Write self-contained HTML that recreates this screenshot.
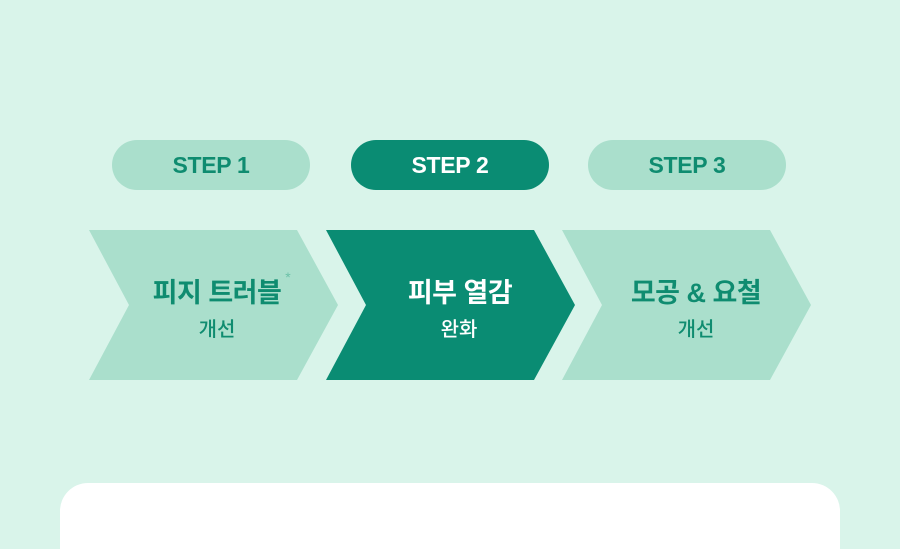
<!DOCTYPE html>
<html style="margin:0;width:900px;height:549px;overflow:hidden"><head><meta charset="utf-8"><style>
body{margin:0;width:900px;height:549px;background:#d9f4ea;position:relative;overflow:hidden;font-family:"Liberation Sans","Noto Sans CJK KR",sans-serif}
.pill{position:absolute;top:140px;width:198px;height:50px;border-radius:25px;background:#aadfcc;color:#0f8c70;font-weight:bold;font-size:23px;line-height:50px;text-align:center;letter-spacing:-0.3px}
.pill.on{background:#0a8c73;color:#fff}
.t{position:absolute;text-align:center;width:200px;font-weight:bold;color:#0f8c70}
.t1{top:271px;font-size:27px;letter-spacing:-0.5px}
.t2{top:313px;font-size:20px;font-weight:500}
.w{color:#fff}
.card{position:absolute;left:60px;top:483px;width:780px;height:66px;background:#fff;border-radius:28px 28px 0 0}
</style></head><body>
<div class="pill" style="left:112px">STEP 1</div>
<div class="pill on" style="left:351px">STEP 2</div>
<div class="pill" style="left:588px">STEP 3</div>
<svg width="900" height="549" style="position:absolute;left:0;top:0">
<polygon points="89,230 297,230 338,305 297,380 89,380 129,305" fill="#aadfcc"/>
<polygon points="326,230 534,230 575,305 534,380 326,380 366,305" fill="#0a8c73"/>
<polygon points="562,230 770,230 811,305 770,380 562,380 602,305" fill="#aadfcc"/>
<text x="288" y="282" font-size="14" fill="#6cc1a8" text-anchor="middle" font-family="Liberation Sans">*</text>
</svg>
<div class="t t1" style="left:117px">피지 트러블</div>
<div class="t t2" style="left:117px">개선</div>
<div class="t t1 w" style="left:360px">피부 열감</div>
<div class="t t2 w" style="left:359px">완화</div>
<div class="t t1" style="left:596px">모공 &amp; 요철</div>
<div class="t t2" style="left:596px">개선</div>
<div class="card"></div>
</body></html>
